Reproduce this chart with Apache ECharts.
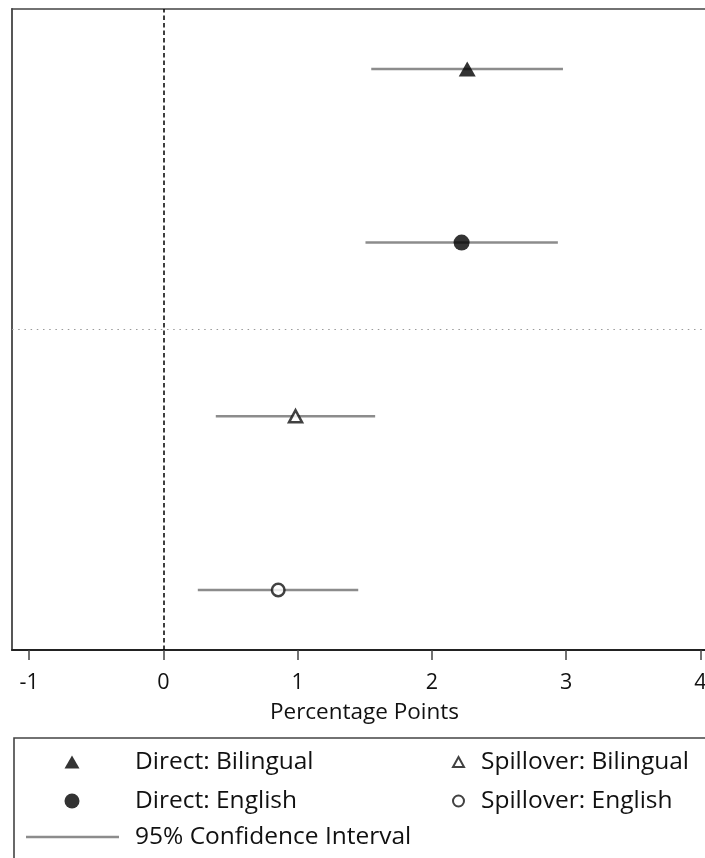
<!DOCTYPE html>
<html>
<head>
<meta charset="utf-8">
<script src="https://cdn.jsdelivr.net/npm/echarts@6/dist/echarts.min.js"></script>
<style>
html,body{margin:0;padding:0;background:#fff;}
#chart{width:705px;height:858px;}
</style>
</head>
<body>
<div id="chart"></div>
<script>
// ---- data ----
var rowNames = ['Direct: Bilingual', 'Direct: English', 'Spillover: Bilingual', 'Spillover: English'];
var rowPos = [4, 3, 2, 1];
var estimates = [2.263, 2.221, 0.984, 0.855];
var ciLow = [1.548, 1.505, 0.390, 0.256];
var ciHigh = [2.976, 2.938, 1.577, 1.451];
var xTicks = [-1, 0, 1, 2, 3, 4];
var ciName = '95% Confidence Interval';
var xTitle = 'Percentage Points';

var FONT = 'Open Sans';
var chart = echarts.init(document.getElementById('chart'), null, {renderer: 'canvas'});

var ciData = rowPos.map(function (y, i) { return [ciLow[i], ciHigh[i], y]; });

var markerStyles = [
  {symbol: 'triangle', size: [17, 15], itemStyle: {color: '#000'}},
  {symbol: 'circle', size: 16, itemStyle: {color: '#000'}},
  {symbol: 'triangle', size: [13, 12], itemStyle: {color: '#fff', borderColor: '#111', borderWidth: 2.5}},
  {symbol: 'circle', size: 12.5, itemStyle: {color: '#fff', borderColor: '#111', borderWidth: 2.5}}
];

var series = [{
  name: ciName,
  type: 'custom',
  z: 1,
  data: ciData,
  renderItem: function (params, api) {
    var p1 = api.coord([api.value(0), api.value(2)]);
    var p2 = api.coord([api.value(1), api.value(2)]);
    return {
      type: 'line',
      shape: {x1: p1[0], y1: p1[1], x2: p2[0], y2: p2[1]},
      style: {stroke: '#8c8c8c', lineWidth: 2.5}
    };
  },
  itemStyle: {color: '#8c8c8c'},
  markLine: {
    silent: true,
    symbol: ['none', 'none'],
    label: {show: false},
    animation: false,
    data: [
      {xAxis: 0, lineStyle: {color: '#000', width: 1.5, type: [4.5, 3]}},
      {yAxis: 2.5, lineStyle: {color: '#9a9a9a', width: 1.2, type: [1.5, 4.7]}}
    ]
  }
}];
rowNames.forEach(function (name, i) {
  series.push({
    name: name,
    type: 'scatter',
    z: 5,
    symbol: markerStyles[i].symbol,
    symbolSize: markerStyles[i].size,
    itemStyle: markerStyles[i].itemStyle,
    data: [[estimates[i], rowPos[i]]]
  });
});

var legendText = function (pad) {
  return {fontFamily: FONT, fontSize: 24.5, color: '#111', lineHeight: 26, padding: pad};
};

var X_MIN = -1.128, X_MAX = 4.034;

var option = {
  animation: false,
  backgroundColor: '#fff',
  grid: {left: 12, right: 0, top: 9, bottom: 208, show: false, outerBoundsMode: 'none', containLabel: false},
  xAxis: [{
    type: 'value',
    min: X_MIN,
    max: X_MAX,
    name: xTitle,
    nameLocation: 'middle',
    nameGap: 51,
    nameTextStyle: {fontFamily: FONT, fontSize: 22.5, color: '#111', padding: [0, 0, 0, 12]},
    axisLine: {show: true, onZero: false, lineStyle: {color: '#222', width: 2}},
    axisTick: {show: true, length: 10, customValues: xTicks, lineStyle: {color: '#444', width: 1.5}},
    axisLabel: {customValues: xTicks, margin: 22, fontFamily: FONT, fontSize: 21.5, color: '#111'},
    splitLine: {show: false}
  }, {
    type: 'value',
    position: 'top',
    min: X_MIN,
    max: X_MAX,
    axisLine: {show: true, onZero: false, lineStyle: {color: '#444', width: 1.6}},
    axisTick: {show: false},
    axisLabel: {show: false},
    splitLine: {show: false}
  }],
  yAxis: {
    type: 'value',
    min: 0.6545,
    max: 4.345,
    position: 'left',
    axisLine: {show: true, onZero: false, lineStyle: {color: '#444', width: 1.8}},
    axisTick: {show: false},
    axisLabel: {show: false},
    splitLine: {show: false}
  },
  legend: [
    {data: [{name: rowNames[0], icon: 'triangle', itemStyle: {color: '#000', borderWidth: 0}}],
     left: 64.5, top: 742.5, padding: 0, itemWidth: 15, itemHeight: 13, selectedMode: false, textStyle: legendText([13, 0, 0, 50.5])},
    {data: [{name: rowNames[1], icon: 'circle', itemStyle: {color: '#000', borderWidth: 0}}],
     left: 64.5, top: 782.5, padding: 0, itemWidth: 15, itemHeight: 15, selectedMode: false, textStyle: legendText([11, 0, 0, 50.5])},
    {data: [{name: ciName, icon: 'rect', itemStyle: {color: '#8c8c8c', borderWidth: 0}}],
     left: 26, top: 822, padding: 0, itemWidth: 93, itemHeight: 2.5, selectedMode: false, symbolKeepAspect: false, textStyle: legendText([4, 0, 0, 11])},
    {data: [{name: rowNames[2], icon: 'triangle', itemStyle: {color: '#fff', borderColor: '#111', borderWidth: 2}}],
     left: 452, top: 742.5, padding: 0, itemWidth: 11, itemHeight: 10, selectedMode: false, textStyle: legendText([13, 0, 0, 12])},
    {data: [{name: rowNames[3], icon: 'circle', itemStyle: {color: '#fff', borderColor: '#111', borderWidth: 2}}],
     left: 452, top: 782.5, padding: 0, itemWidth: 11, itemHeight: 11, selectedMode: false, textStyle: legendText([11, 0, 0, 12])}
  ],
  graphic: [{
    type: 'rect',
    x: 14, y: 738,
    shape: {x: 0, y: 0, width: 800, height: 200},
    style: {fill: 'transparent', stroke: '#444', lineWidth: 1.6},
    silent: true
  }],
  series: series
};
chart.setOption(option);
</script>
</body>
</html>
